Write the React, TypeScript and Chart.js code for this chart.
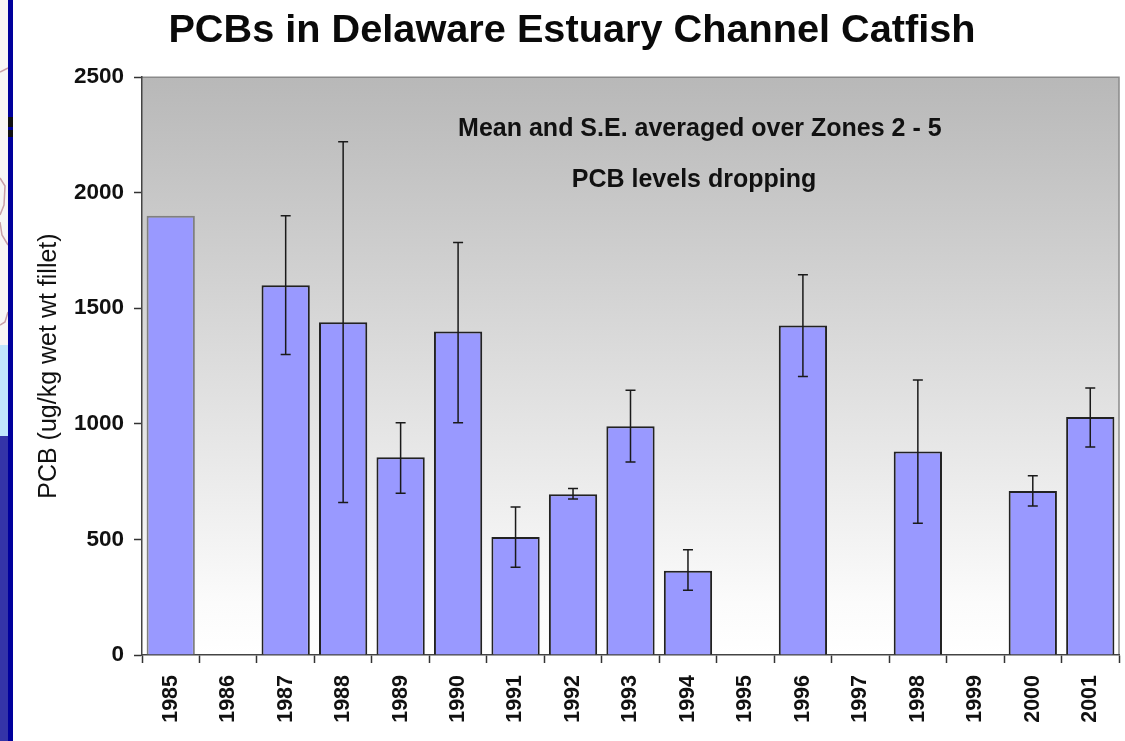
import React, { useEffect, useRef } from "react";
import { Chart, registerables } from "chart.js";

Chart.register(...registerables);

const years = ["1985","1986","1987","1988","1989","1990","1991","1992","1993","1994","1995","1996","1997","1998","1999","2000","2001"];
const means = [1900,null,1600,1440,855,1400,510,695,990,365,null,1425,null,880,null,710,1030];
const errLow = [null,null,1300,660,700,1005,380,675,835,280,null,1205,null,570,null,645,900];
const errHigh = [null,null,1900,2220,1005,1785,640,720,1145,455,null,1645,null,1190,null,775,1155];
const barBorders = ["#808080","#222","#222","#222","#222","#222","#222","#222","#222","#222","#222","#222","#222","#222","#222","#222","#222"];
const titleText = "PCBs in Delaware Estuary Channel Catfish";
const yTitle = "PCB (ug/kg wet wt fillet)";
const noteLines = ["Mean and S.E. averaged over Zones 2 - 5", "PCB levels dropping"];

const FONT = '"Liberation Sans", Arial, sans-serif';

const backdrop = {
  id: "backdrop",
  beforeDraw(chart: any) {
    const { ctx, chartArea: a } = chart;
    ctx.save();
    ctx.fillStyle = "#fff";
    ctx.fillRect(0, 0, chart.width, chart.height);
    // slide edge behind the chart
    ctx.fillStyle = "#f8f6f5";
    ctx.fillRect(0, 0, 8, 345);
    ctx.fillStyle = "#c0e6fc";
    ctx.fillRect(0, 345, 8, 91);
    ctx.fillStyle = "#3434a8";
    ctx.fillRect(0, 436, 8, 305);
    ctx.strokeStyle = "#c9a0a8";
    ctx.lineWidth = 1.5;
    ctx.beginPath();
    ctx.moveTo(0, 72); ctx.lineTo(8, 68);
    ctx.moveTo(0, 178); ctx.lineTo(5, 186); ctx.lineTo(4, 205); ctx.lineTo(0, 215);
    ctx.moveTo(0, 222); ctx.lineTo(2, 235); ctx.lineTo(8, 245);
    ctx.moveTo(0, 325); ctx.lineTo(5, 322); ctx.lineTo(8, 312);
    ctx.stroke();
    ctx.fillStyle = "#00009c";
    ctx.fillRect(8, 0, 5, 741);
    ctx.fillStyle = "#111";
    ctx.fillRect(8, 117, 5, 10);
    ctx.fillRect(8, 130, 5, 7);
    // plot gradient
    const g = ctx.createLinearGradient(0, a.top, 0, a.bottom);
    g.addColorStop(0, "#b8b8b8");
    g.addColorStop(0.91, "#fbfbfb");
    g.addColorStop(1, "#ffffff");
    ctx.fillStyle = g;
    ctx.fillRect(a.left, a.top, a.right - a.left, a.bottom - a.top);
    ctx.strokeStyle = "#8a8a8a";
    ctx.lineWidth = 1.5;
    ctx.beginPath();
    ctx.moveTo(a.left, a.top);
    ctx.lineTo(a.right, a.top);
    ctx.lineTo(a.right, a.bottom);
    ctx.stroke();
    ctx.restore();
  },
};

const overlay = {
  id: "overlay",
  afterDatasetsDraw(chart: any) {
    const { ctx, scales, chartArea: a } = chart;
    const x = scales.x;
    const y = scales.y;
    ctx.save();
    ctx.strokeStyle = "#1a1a1a";
    ctx.lineWidth = 1.5;
    years.forEach((_, i) => {
      const lo = errLow[i];
      const hi = errHigh[i];
      if (lo == null || hi == null) return;
      const px = x.getPixelForValue(i);
      const pl = y.getPixelForValue(lo);
      const ph = y.getPixelForValue(hi);
      ctx.beginPath();
      ctx.moveTo(px, pl);
      ctx.lineTo(px, ph);
      ctx.moveTo(px - 5, pl);
      ctx.lineTo(px + 5, pl);
      ctx.moveTo(px - 5, ph);
      ctx.lineTo(px + 5, ph);
      ctx.stroke();
    });
    ctx.fillStyle = "#111";
    ctx.font = `bold 25px ${FONT}`;
    ctx.textAlign = "center";
    ctx.textBaseline = "middle";
    const w = a.right - a.left;
    ctx.fillText(noteLines[0], a.left + w * 0.571, a.top + (a.bottom - a.top) * 0.09);
    ctx.fillText(noteLines[1], a.left + w * 0.565, a.top + (a.bottom - a.top) * 0.178);
    ctx.restore();
  },
};

export default function App() {
  const ref = useRef<HTMLCanvasElement>(null);
  useEffect(() => {
    document.body.style.margin = "0";
    const chart = new Chart(ref.current!, {
      type: "bar",
      plugins: [backdrop, overlay],
      data: {
        labels: years,
        datasets: [
          {
            data: means,
            backgroundColor: "#9999ff",
            borderColor: barBorders,
            borderWidth: 2,
            barPercentage: 0.84,
            categoryPercentage: 1,
          },
        ],
      },
      options: {
        responsive: false,
        animation: false,
        layout: { padding: { left: 22, right: 3, top: 7, bottom: 0 } },
        plugins: {
          legend: { display: false },
          tooltip: { enabled: false },
          title: {
            display: true,
            text: titleText,
            color: "#0a0a0a",
            font: { family: FONT, size: 39.7, weight: "bold" },
            padding: { top: 0, bottom: 22.5 },
          },
        },
        scales: {
          x: {
            afterFit: (s: any) => { s.height = 86; s.paddingRight = 6; s.paddingLeft = 0; },
            grid: { offset: true, drawOnChartArea: false, drawTicks: true, tickLength: 8, tickColor: "#333", tickWidth: 1.5 },
            border: { color: "#444", width: 1.5 },
            ticks: {
              color: "#111",
              font: { family: FONT, size: 21.5, weight: "bold" },
              maxRotation: 90,
              minRotation: 90,
              autoSkip: false,
              padding: 12,
            },
          },
          y: {
            min: 0,
            max: 2500,
            afterFit: (s: any) => { s.width = 120; },
            grid: { drawOnChartArea: false, tickLength: 8, tickColor: "#333", tickWidth: 1.5 },
            border: { color: "#444", width: 1.5 },
            title: {
              display: true,
              text: yTitle,
              color: "#111",
              font: { family: FONT, size: 25 },
              padding: { top: 12, bottom: 0 },
            },
            ticks: {
              stepSize: 500,
              color: "#111",
              font: { family: FONT, size: 22.5, weight: "bold" },
              padding: 10,
              callback: (v: any) => String(v),
            },
          },
        },
      },
    } as any);
    return () => chart.destroy();
  }, []);
  return <canvas ref={ref} width={1125} height={741} style={{ display: "block" }} />;
}
